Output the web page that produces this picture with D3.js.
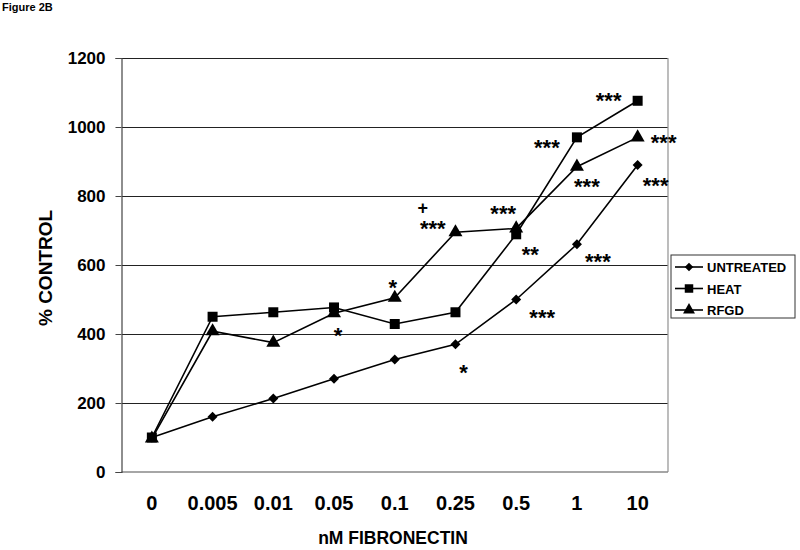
<!DOCTYPE html>
<html>
<head>
<meta charset="utf-8">
<script src="https://cdn.jsdelivr.net/npm/d3@7"></script>
<style>
  body { margin: 0; background: #fff; }
  svg text { font-family: "Liberation Sans", Arial, sans-serif; font-weight: bold; fill: #000; }
</style>
</head>
<body>
<svg id="chart" width="800" height="550"></svg>
<script>
// ---- data ----
const categories = ["0", "0.005", "0.01", "0.05", "0.1", "0.25", "0.5", "1", "10"];
const untreated = [100, 160, 213, 270, 326, 370, 500, 660, 890];
const heat      = [100, 450, 463, 477, 429, 463, 689, 970, 1076];
const rfgd      = [97, 408, 375, 460, 505, 695, 706, 885, 970];
const seriesNames = ["UNTREATED", "HEAT", "RFGD"];
const yTicks = [0, 200, 400, 600, 800, 1000, 1200];
// significance marks: text, category anchor, value level, horizontal shift
const annotText = ["***", "***", "***", "***", "***", "+", "***", "***", "**", "***", "*", "***", "*", "*"];
const annotCat  = ["10", "1", "10", "1", "10", "0.1", "0.1", "0.5", "0.5", "1", "0.1", "0.5", "0.25", "0.05"];
const annotVal  = [1093, 956, 971, 843, 846, 765, 722, 765, 646, 626, 551, 464, 304, 412];
const annotDx   = [-29, -30, 26, 10, 18, 28, 38, -13, 14, 21, -2, 26, 8, 4];

// ---- layout ----
const svg = d3.select("#chart");
const L = 121.5, R = 668, T = 58, B = 472;

const x = d3.scaleBand().domain(categories).range([L, R]).paddingInner(0).paddingOuter(0);
const y = d3.scaleLinear().domain([0, 1200]).range([B, T]);
const cx = c => x(c) + x.bandwidth() / 2;

// title
svg.append("text").attr("x", 2).attr("y", 11).style("font-size", "11px").text("Figure 2B");

// gridlines
svg.append("g").selectAll("line").data(yTicks.filter(d => d > 0)).join("line")
  .attr("x1", L).attr("x2", R).attr("y1", d => y(d)).attr("y2", d => y(d))
  .attr("stroke", "#222").attr("stroke-width", 1).attr("shape-rendering", "crispEdges");

// plot border right & bottom (gray)
svg.append("line").attr("x1", R).attr("x2", R).attr("y1", T).attr("y2", B)
  .attr("stroke", "#999").attr("stroke-width", 1.3);
svg.append("line").attr("x1", L).attr("x2", R).attr("y1", B).attr("y2", B)
  .attr("stroke", "#888").attr("stroke-width", 1.5);

// y axis
const yAxis = d3.axisLeft(y).tickValues(yTicks).tickSize(6).tickPadding(10).tickFormat(d3.format("d"));
const ya = svg.append("g").attr("transform", `translate(${L},0)`).call(yAxis);
ya.select(".domain").attr("stroke", "#444").attr("stroke-width", 1.2);
ya.selectAll(".tick line").attr("stroke", "#444");
ya.selectAll(".tick text").style("font-size", "17px").style("font-family", "'Liberation Sans', Arial, sans-serif")
  .style("font-weight", "bold").attr("fill", "#000");

// x axis labels
const xAxis = d3.axisBottom(x).tickSize(0).tickPadding(24);
const xa = svg.append("g").attr("transform", `translate(0,${B})`).call(xAxis);
xa.select(".domain").remove();
xa.selectAll(".tick text").style("font-size", "20px").style("font-family", "'Liberation Sans', Arial, sans-serif")
  .style("font-weight", "bold").attr("fill", "#000");

// axis titles
svg.append("text").attr("x", 393).attr("y", 544).attr("text-anchor", "middle")
  .style("font-size", "17.5px").text("nM FIBRONECTIN");
svg.append("text").attr("transform", "translate(52,268) rotate(-90)").attr("text-anchor", "middle")
  .style("font-size", "19px").text("% CONTROL");

// series
const allSeries = [untreated, heat, rfgd];
const markerPath = [
  d3.symbol().type(d3.symbolSquare).size(50)(),
  d3.symbol().type(d3.symbolSquare).size(100)(),
  d3.symbol().type(d3.symbolTriangle).size(85)()
];
const markerRot = [45, 0, 0];
const line = d3.line().x((d, i) => cx(categories[i])).y(d => y(d));

allSeries.forEach((vals) => {
  svg.append("path").datum(vals).attr("d", line)
    .attr("fill", "none").attr("stroke", "#000").attr("stroke-width", 1.6);
});
allSeries.forEach((vals, si) => {
  svg.append("g").selectAll("path").data(vals).join("path")
    .attr("transform", (d, i) => `translate(${cx(categories[i])},${y(d)}) rotate(${markerRot[si]})`)
    .attr("d", markerPath[si])
    .attr("fill", "#000");
});

// annotations
annotText.forEach((t, i) => {
  const fs = t === "+" ? 18 : 22;
  const off = t === "+" ? 0.33 : 0.58;
  svg.append("text")
    .attr("x", cx(annotCat[i]) + annotDx[i])
    .attr("y", y(annotVal[i]) + off * fs)
    .attr("text-anchor", "middle")
    .style("font-size", fs + "px")
    .style("font-weight", "bold")
    .text(t);
});

// legend
const lg = svg.append("g").attr("transform", "translate(671,255)");
lg.append("rect").attr("width", 124).attr("height", 63).attr("fill", "#fff")
  .attr("stroke", "#333").attr("stroke-width", 1);
seriesNames.forEach((n, i) => {
  const ly = 12 + i * 21.5;
  lg.append("line").attr("x1", 4).attr("x2", 32).attr("y1", ly).attr("y2", ly)
    .attr("stroke", "#000").attr("stroke-width", 1.6);
  lg.append("path").attr("transform", `translate(18,${ly}) rotate(${markerRot[i]}) scale(0.85)`)
    .attr("d", markerPath[i]).attr("fill", "#000");
  lg.append("text").attr("x", 36).attr("y", ly + 5).style("font-size", "13px").text(n);
});
</script>
</body>
</html>
